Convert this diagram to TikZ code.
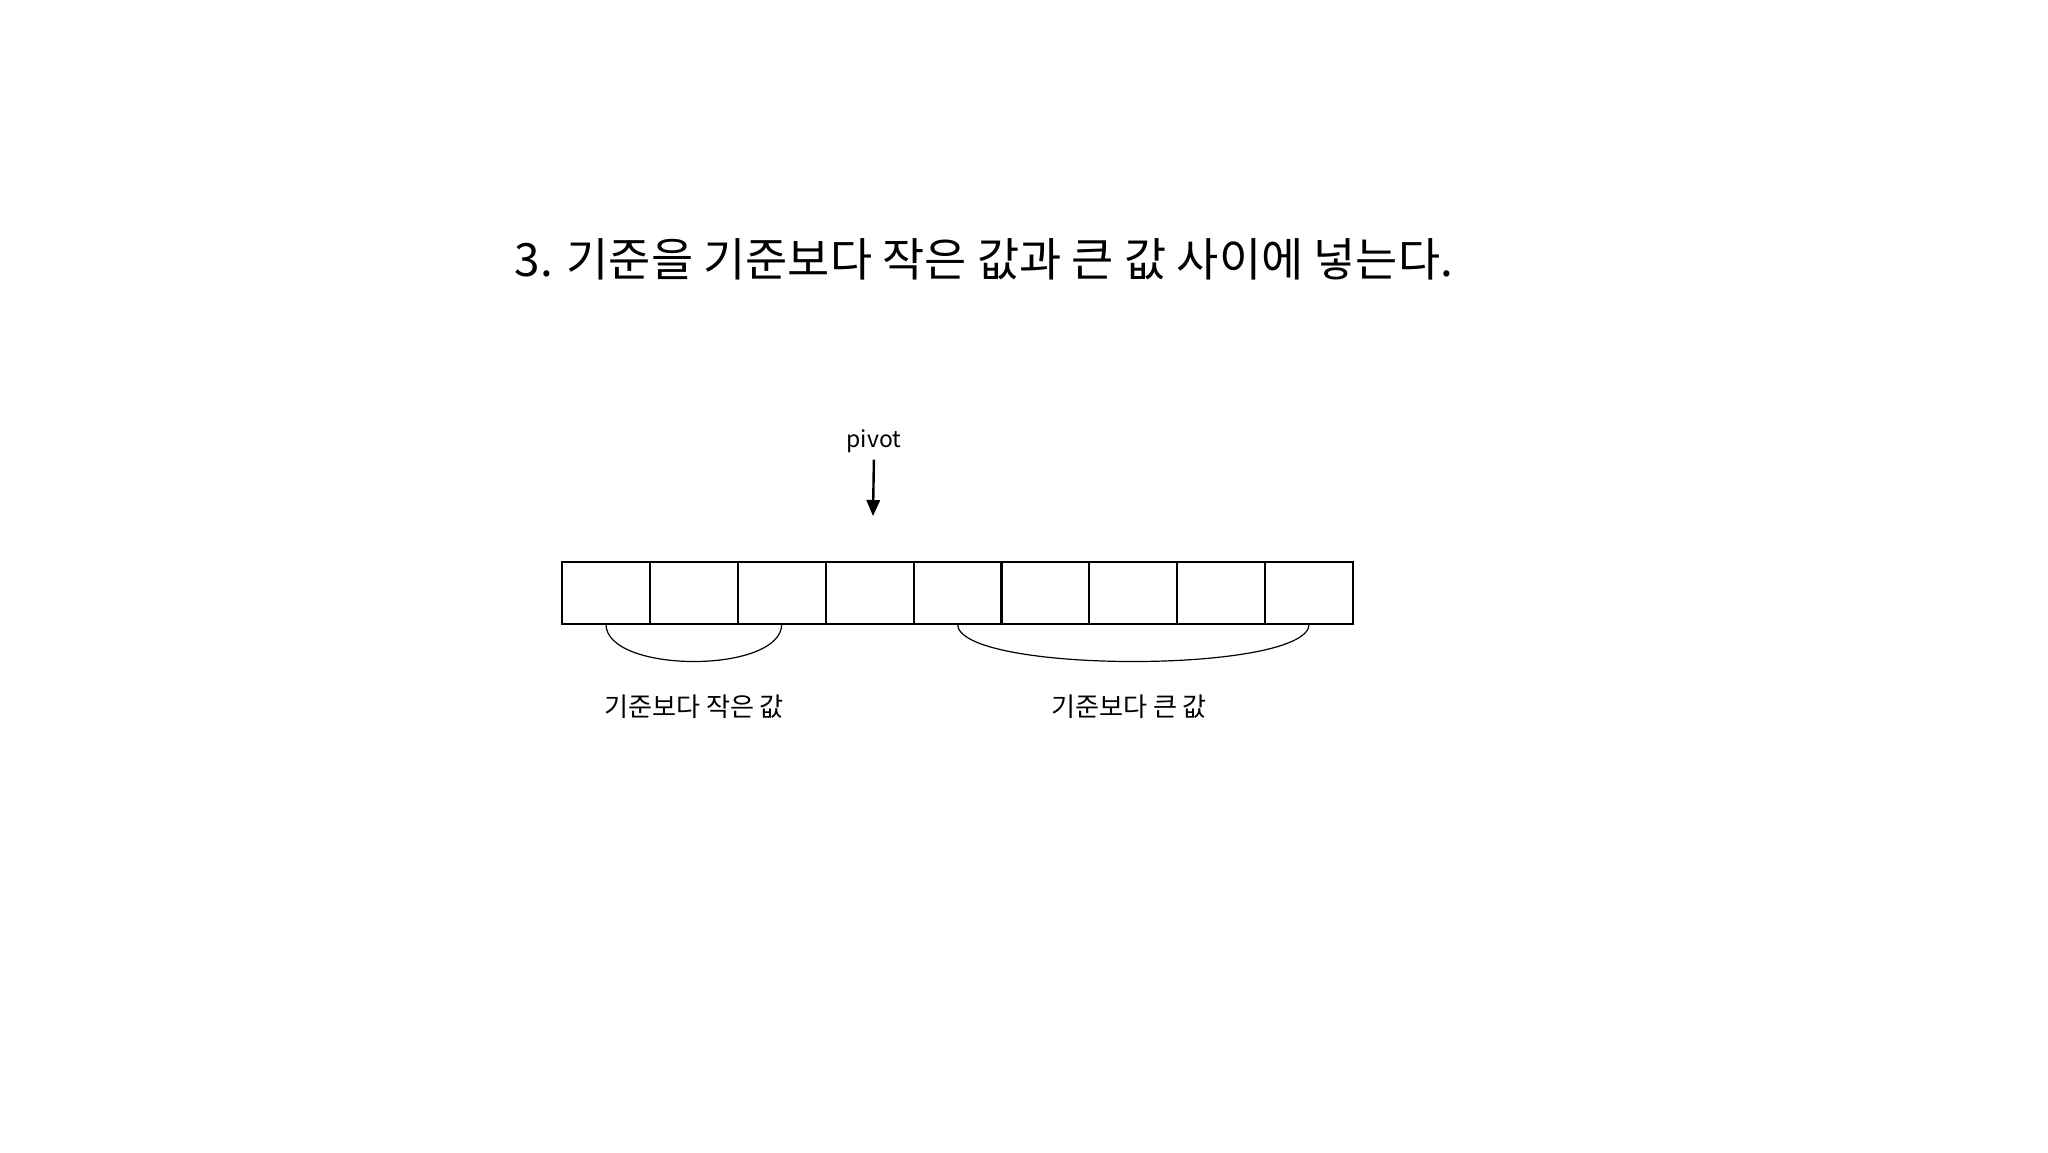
\documentclass[tikz,border=0pt]{standalone}
\usepackage{fontspec}
\setmainfont{Noto Sans CJK KR}
\usetikzlibrary{arrows.meta}
\begin{document}
\begin{tikzpicture}[x=0.375pt,y=-0.375pt,
  cell/.style={draw,line width=0.8pt,minimum width=32.96pt,minimum height=23.25pt,inner sep=0pt,outer sep=0pt},
  lbl/.style={font=\fontsize{9.8}{12}\selectfont,inner sep=0pt},
  brace/.style={line width=0.45pt},
  ptr/.style={line width=0.9pt,-{Triangle[length=6pt,width=5pt]}}]
\useasboundingbox (0,0) rectangle (2048,1152);
\node[font=\fontsize{17.2}{20}\selectfont,inner sep=0pt] (title) at (984,259) {3. 기준을 기준보다 작은 값과 큰 값 사이에 넣는다.};
\foreach \i in {1,...,9} \node[cell] (b\i) at ({562+87.9*(\i-0.5)},593) {};
\draw[brace] (b1.south) .. controls +(0,50) and +(0,50) .. (b3.south);
\draw[brace] (b5.south) .. controls +(0,50) and +(0,50) .. (b9.south);
\node[lbl] (l1) at (694,707) {기준보다 작은 값};
\node[lbl] (l2) at (1129,707) {기준보다 큰 값};
\node[lbl,font=\fontsize{8.6}{10}\selectfont] (pv) at (874,441) {pivot};
\coordinate (tip) at (873,516);
\draw[ptr,shorten <=2.5pt] (pv.south) -- (tip);
\end{tikzpicture}
\end{document}
